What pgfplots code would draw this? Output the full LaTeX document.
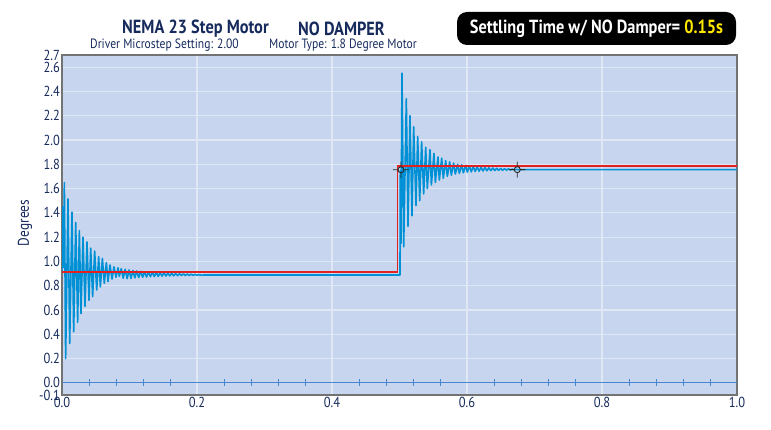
\documentclass[border=0pt]{standalone}
\usepackage{pgfplots}
\pgfplotsset{compat=1.18}
\usepackage{fontspec}
\setmainfont{PT Sans}[FakeStretch=0.86]
\definecolor{bgblue}{RGB}{199,214,238}
\definecolor{gridc}{RGB}{224,232,246}
\definecolor{navy}{RGB}{22,42,92}
\definecolor{sigblue}{RGB}{0,144,214}
\definecolor{stepred}{RGB}{226,34,34}
\definecolor{zeroblue}{RGB}{70,135,205}
\definecolor{yel}{RGB}{255,232,0}
\pgfdeclareplotmark{xhair}{%
  \pgfpathcircle{\pgfpointorigin}{3pt}%
  \pgfpathmoveto{\pgfpoint{-8pt}{0pt}}\pgfpathlineto{\pgfpoint{-3.5pt}{0pt}}%
  \pgfpathmoveto{\pgfpoint{3.5pt}{0pt}}\pgfpathlineto{\pgfpoint{8pt}{0pt}}%
  \pgfpathmoveto{\pgfpoint{0pt}{-8pt}}\pgfpathlineto{\pgfpoint{0pt}{-3.5pt}}%
  \pgfpathmoveto{\pgfpoint{0pt}{3.5pt}}\pgfpathlineto{\pgfpoint{0pt}{8pt}}%
  \pgfusepathqstroke}
\begin{document}
\begin{tikzpicture}
\path[use as bounding box] (0,0) rectangle (771pt,-430pt);
\begin{axis}[
  at={(62pt,-395pt)}, anchor=south west, scale only axis,
  width=675pt, height=340pt,
  xmin=0, xmax=1, ymin=-0.1, ymax=2.7,
  axis background/.style={fill=bgblue},
  xtick={0,0.2,0.4,0.6,0.8,1.0},
  ytick={-0.1,0,0.2,0.4,0.6,0.8,1.0,1.2,1.4,1.6,1.8,2.0,2.2,2.4,2.6,2.7},
  grid=major, major grid style={draw=gridc, line width=1.1pt},
  major tick length=0pt,
  axis line style={draw=black!55, line width=1.3pt},
  /pgf/number format/assume math mode=true,
  xticklabel style={/pgf/number format/.cd, fixed, fixed zerofill, precision=1},
  yticklabel style={/pgf/number format/.cd, fixed, fixed zerofill, precision=1},
  tick label style={font=\fontsize{14.5}{15}\selectfont, text=navy, inner sep=2pt},
  clip=true,
]
\addplot[draw=zeroblue, line width=1pt] coordinates {(0,0) (1,0)};
\addplot[draw=zeroblue, only marks, mark=|, mark size=3.5pt, mark options={draw=zeroblue, line width=0.8pt}] coordinates {
(0.04,0)(0.08,0)(0.12,0)(0.16,0)(0.24,0)(0.28,0)(0.32,0)(0.36,0)
(0.44,0)(0.48,0)(0.52,0)(0.56,0)(0.64,0)(0.68,0)(0.72,0)(0.76,0)
(0.84,0)(0.88,0)(0.92,0)(0.96,0)};
% blue response
\addplot[draw=sigblue, line width=1.6pt, line join=round, mark=none] coordinates {
(0,0.92) (0.0010,1.45) (0.0020,0.95) (0.0035,1.65) (0.0054,0.20)
(0.0089,1.515) (0.0114,0.325) (0.0148,1.406) (0.0173,0.42)
(0.0203,1.32) (0.0232,0.50) (0.0257,1.255) (0.0281,0.57)
(0.0311,1.20) (0.0341,0.63) (0.0370,1.16) (0.0400,0.68)
(0.0425,1.11) (0.0454,0.71) (0.0484,1.085) (0.0514,0.765)
(0.0543,1.04) (0.0568,0.79) (0.0598,1.025) (0.0627,0.82)
(0.0657,0.99) (0.0681,0.835) (0.0711,0.97) (0.0741,0.855)
(0.0770,0.955) (0.0800,0.87) (0.0830,0.947) (0.0849,0.877)
(0.0878,0.940) (0.0907,0.862) (0.0936,0.935) (0.0965,0.858)
(0.0993,0.930) (0.1022,0.860) (0.1051,0.925) (0.1080,0.865)
(0.1108,0.922) (0.1137,0.868) (0.1166,0.918) (0.1195,0.870)
(0.1223,0.915) (0.1252,0.872) (0.1281,0.913) (0.1310,0.874)
(0.1338,0.911) (0.1367,0.876) (0.1396,0.909) (0.1425,0.877)
(0.1453,0.907) (0.1482,0.879) (0.1511,0.905) (0.1540,0.880)
(0.1568,0.903) (0.1597,0.881) (0.1626,0.902) (0.1655,0.882)
(0.1683,0.900) (0.1712,0.883) (0.1741,0.899) (0.1770,0.884)
(0.1798,0.897) (0.1827,0.885) (0.1856,0.896) (0.1885,0.885)
(0.1913,0.894) (0.1942,0.886) (0.1971,0.893) (0.2000,0.886)
(0.2028,0.891) (0.2057,0.887) (0.2100,0.888) (0.5007,0.888)
(0.5012,1.75) (0.5022,1.15) (0.5037,2.55) (0.5062,1.12)
(0.5101,2.34) (0.5126,1.29) (0.5155,2.20) (0.5185,1.375)
(0.5210,2.11) (0.5244,1.46) (0.5269,2.03) (0.5299,1.50)
(0.5328,1.985) (0.5358,1.556) (0.5388,1.94) (0.5412,1.60)
(0.5452,1.92) (0.5472,1.63) (0.5511,1.89) (0.5531,1.65)
(0.5570,1.86) (0.5590,1.67) (0.5625,1.85) (0.5649,1.685)
(0.5684,1.83) (0.5709,1.70) (0.5743,1.82) (0.5768,1.71)
(0.5802,1.81) (0.5827,1.72) (0.5862,1.80) (0.5886,1.725)
(0.5921,1.795) (0.5946,1.73) (0.5980,1.79) (0.6005,1.735)
(0.6034,1.785) (0.6063,1.738) (0.6092,1.782) (0.6121,1.741)
(0.6150,1.779) (0.6179,1.743) (0.6208,1.776) (0.6237,1.745)
(0.6266,1.773) (0.6295,1.747) (0.6324,1.771) (0.6353,1.748)
(0.6382,1.769) (0.6411,1.749) (0.6440,1.767) (0.6469,1.750)
(0.6498,1.765) (0.6527,1.751) (0.6556,1.763) (0.6585,1.752)
(0.6614,1.762) (0.6643,1.753) (0.6672,1.760) (0.6701,1.754)
(0.6730,1.758) (0.6760,1.756) (1.0,1.756)};
% red command step
\addplot[draw=stepred, line width=1.6pt, mark=none] coordinates {
(0,0.915) (0.4973,0.915) (0.4973,1.788) (1,1.788)};
\addplot[draw=black!85, only marks, mark=xhair, mark options={draw=black!85, line width=0.9pt}] coordinates {
(0.5022,1.755) (0.6745,1.756)};
\end{axis}
% titles
\node[text=navy, font=\fontsize{19}{20}\selectfont\bfseries, anchor=west, inner sep=0pt] at (122pt,-29pt) {NEMA 23 Step Motor};
\node[text=navy, font=\fontsize{19}{20}\selectfont\bfseries, anchor=west, inner sep=0pt] at (298pt,-29pt) {NO DAMPER};
\node[text=navy, font=\fontsize{13.5}{15}\selectfont, anchor=west, inner sep=0pt] at (90pt,-45.5pt) {Driver Microstep Setting: 2.00};
\node[text=navy, font=\fontsize{13.5}{15}\selectfont, anchor=west, inner sep=0pt] at (269pt,-45.5pt) {Motor Type: 1.8 Degree Motor};
\node[fill=black, rounded corners=10pt, minimum width=279pt, minimum height=33pt, inner sep=0pt,
      text=white, font=\fontsize{19}{21}\selectfont\bfseries] at (596.5pt,-28.5pt)
      {Settling Time w/ NO Damper= \textcolor{yel}{0.15s}};
\node[text=navy, rotate=90, font=\fontsize{15.5}{17}\selectfont] at (25pt,-223pt) {Degrees};
\end{tikzpicture}
\end{document}
